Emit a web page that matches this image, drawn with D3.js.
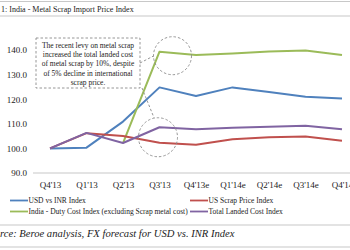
<!DOCTYPE html>
<html>
<head>
<meta charset="utf-8">
<script src="https://cdn.jsdelivr.net/npm/d3@7"></script>
<style>
  html, body { margin: 0; padding: 0; background: #fff; overflow: hidden; }
  svg { display: block; font-family: "Liberation Serif", "Times New Roman", serif; }
  .rule { stroke: #c8c8c8; stroke-width: 1.2; }
  .axis path, .axis line { display: none; }
  .axis text { font-family: "Liberation Serif", serif; font-size: 9px; fill: #222; }
  .series { fill: none; stroke-width: 2; stroke-linejoin: round; }
  .note { fill: none; stroke: #8a8a8a; stroke-width: 0.9; stroke-dasharray: 2.5,2; }
</style>
</head>
<body>
<svg id="chart" width="350" height="250"></svg>
<script>
const categories = ["Q4'13", "Q1'13", "Q2'13", "Q3'13", "Q4'13e", "Q1'14e", "Q2'14e", "Q3'14e", "Q4'14"];
const yTicks = [90, 100, 110, 120, 130, 140];

const usdInr      = [100, 100.3, 110.9, 124.8, 121.3, 124.8, 122.9, 121.0, 120.3];
const usScrap     = [100, 106.2, 105.0, 102.3, 101.5, 103.7, 104.5, 104.8, 103.1];
const dutyCost    = [null, null, 102.1, 139.3, 138.0, 138.6, 139.4, 139.8, 138.0];
const landedCost  = [100, 106.3, 102.2, 108.6, 107.8, 108.4, 108.8, 109.2, 107.8];

const seriesNames = ["USD vs INR Index", "US Scrap Price Index", "India - Duty Cost Index (excluding Scrap metal cost)", "Total Landed Cost Index"];
const seriesColors = ["#4f81bd", "#c0504d", "#9bbb59", "#8064a2"];

const titleText = "1: India - Metal Scrap Import Price Index";
const noteLines = ["The recent levy on metal scrap", "increased the total landed cost", "of metal scrap by 10%, despite", "of 5% decline in international", "scrap price."];
const sourceText = "rce: Beroe analysis, FX forecast for USD vs. INR Index";

(function () {
  const svg = d3.select("#chart");
  const W = 350, H = 250;

  // header / footer rules
  [1.5, 16, 225, 247].forEach(yy => {
    svg.append("line").attr("class", "rule").attr("x1", 0).attr("x2", W).attr("y1", yy).attr("y2", yy);
  });
  svg.append("text").attr("x", 1).attr("y", 12).attr("font-size", 8).attr("fill", "#222").text(titleText);
  svg.append("text").attr("x", 0).attr("y", 237).attr("font-size", 10.6).attr("font-style", "italic").attr("fill", "#222").text(sourceText);

  const x = d3.scalePoint().domain(categories).range([50, 342]);
  const y = d3.scaleLinear().domain([90, 140]).range([173, 50]);

  // y labels
  svg.append("g").attr("class", "axis").attr("transform", "translate(30,0)")
    .call(d3.axisLeft(y).tickValues(yTicks).tickSize(0).tickPadding(3).tickFormat(d3.format(".1f")));

  // x axis baseline + labels
  svg.append("line").attr("x1", 33).attr("x2", W).attr("y1", y(90)).attr("y2", y(90))
    .attr("stroke", "#c8c8c8").attr("stroke-width", 1.2);
  svg.append("g").attr("class", "axis").attr("transform", `translate(0,${y(90)})`)
    .call(d3.axisBottom(x).tickSize(0).tickPadding(9));

  // series
  const all = [usdInr, usScrap, dutyCost, landedCost];
  const line = d3.line()
    .defined(d => d != null)
    .x((d, i) => x(categories[i]))
    .y(d => y(d));
  [0, 2, 1, 3].forEach(k => {
    svg.append("path").attr("class", "series").attr("stroke", seriesColors[k]).attr("d", line(all[k]));
  });

  // annotation: dashed box, circles, connectors
  const box = { x: 36, y: 38, w: 104, h: 50 };
  svg.append("rect").attr("class", "note").attr("x", box.x).attr("y", box.y).attr("width", box.w).attr("height", box.h);
  svg.append("text").attr("x", box.x + box.w / 2).attr("y", box.y + 10).attr("text-anchor", "middle")
    .attr("font-size", 7.5).attr("fill", "#222")
    .selectAll("tspan").data(noteLines).join("tspan")
    .attr("x", box.x + box.w / 2).attr("dy", (d, i) => i ? 9.2 : 0).text(d => d);

  const c1 = { cx: x("Q3'13") + 13, cy: y(dutyCost[3]) + 4, r: 19 };
  const c2 = { cx: x("Q3'13") - 1.5, cy: y(landedCost[3]) + 10, r: 19.5 };
  [c1, c2].forEach(c => {
    svg.append("circle").attr("class", "note").attr("cx", c.cx).attr("cy", c.cy).attr("r", c.r);
  });
  svg.append("line").attr("class", "note")
    .attr("x1", box.x + box.w).attr("y1", box.y + 25).attr("x2", c1.cx - c1.r + 0.5).attr("y2", c1.cy);
  svg.append("line").attr("class", "note")
    .attr("x1", box.x + box.w + 2).attr("y1", box.y + box.h).attr("x2", c2.cx - 4).attr("y2", c2.cy - c2.r);

  // legend
  const leg = svg.append("g").attr("font-size", 7.5).attr("fill", "#222");
  const pos = [[10, 203], [190, 203], [10, 214], [190, 214]];
  seriesNames.forEach((name, i) => {
    const [lx, ly] = pos[i];
    leg.append("line").attr("x1", lx).attr("x2", lx + 18).attr("y1", ly - 2.5).attr("y2", ly - 2.5)
      .attr("stroke", seriesColors[i]).attr("stroke-width", 1.8);
    leg.append("text").attr("x", lx + 18.5).attr("y", ly).text(name);
  });
})();
</script>
</body>
</html>
